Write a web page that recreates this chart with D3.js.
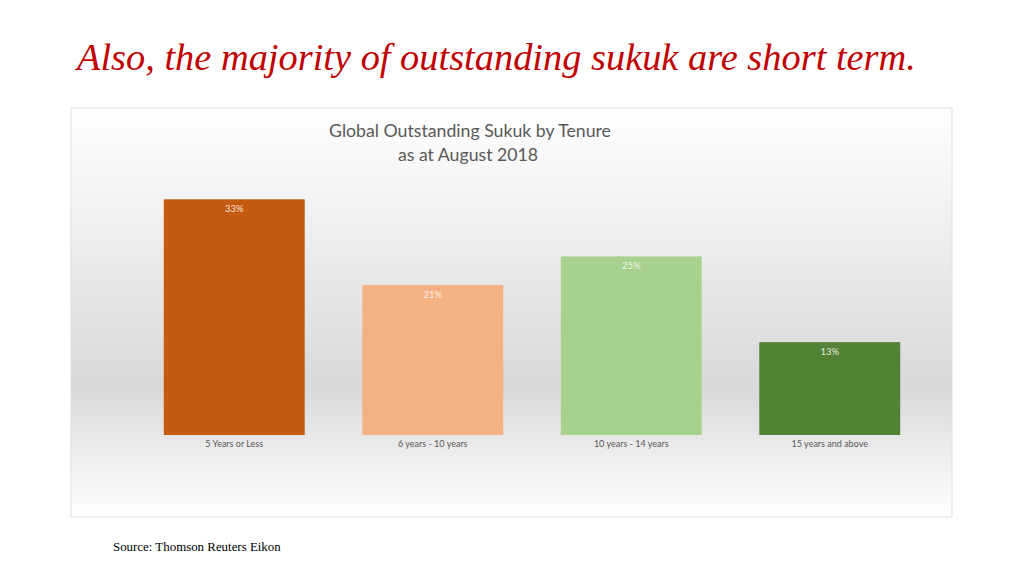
<!DOCTYPE html>
<html><head><meta charset="utf-8">
<script src="https://cdn.jsdelivr.net/npm/d3@7"></script>
<style>body{margin:0;background:#fff;}svg{display:block;}</style>
</head><body>
<svg id="c" width="1024" height="575"></svg>
<script>
const categories = ["5 Years or Less", "6 years - 10 years", "10 years - 14 years", "15 years and above"];
const values = [33, 21, 25, 13];
const colors = ["#c55a11", "#f4b183", "#a9d18e", "#548235"];
const labels = ["33%", "21%", "25%", "13%"];

const svg = d3.select("#c");
const defs = svg.append("defs");
const g = defs.append("linearGradient").attr("id","bg").attr("x1",0).attr("x2",0).attr("y1",0).attr("y2",1);
g.append("stop").attr("offset","0%").attr("stop-color","#ffffff");
g.append("stop").attr("offset","68%").attr("stop-color","#d9d9d9");
g.append("stop").attr("offset","100%").attr("stop-color","#ffffff");

svg.append("text").attr("x",77).attr("y",70)
  .attr("font-family","Liberation Serif").attr("font-style","italic").attr("font-size",38.4)
  .attr("fill","#c00000").text("Also, the majority of outstanding sukuk are short term.");

svg.append("rect").attr("x",71).attr("y",108).attr("width",881).attr("height",409)
  .attr("fill","url(#bg)").attr("stroke","#e0e0e0").attr("stroke-width",1);

const tfont = "Lato, 'Open Sans', sans-serif";
svg.append("text").attr("x",470).attr("y",137).attr("text-anchor","middle")
  .attr("font-family",tfont).attr("font-size",17.7).attr("fill","#595959").text("Global Outstanding Sukuk by Tenure");
svg.append("text").attr("x",468).attr("y",161).attr("text-anchor","middle")
  .attr("font-family",tfont).attr("font-size",17.7).attr("fill","#595959").text("as at August 2018");

const x = d3.scaleBand().domain(categories).range([135, 929]).paddingInner(0.29).paddingOuter(0.145);
const y = d3.scaleLinear().domain([0, 35]).range([435, 185]);

svg.selectAll("rect.bar").data(values).join("rect").attr("class","bar")
  .attr("x",(d,i)=>x(categories[i])).attr("width",x.bandwidth())
  .attr("y",d=>y(d)).attr("height",d=>y(0)-y(d))
  .attr("fill",(d,i)=>colors[i]);

svg.selectAll("text.dl").data(values).join("text").attr("class","dl")
  .attr("x",(d,i)=>x(categories[i])+x.bandwidth()/2).attr("y",d=>y(d)+13)
  .attr("text-anchor","middle").attr("font-family",tfont).attr("font-size",9.5)
  .attr("fill","#ffffff").attr("fill-opacity",0.85).text((d,i)=>labels[i]);

const ax = svg.append("g").attr("transform","translate(0,435)")
  .call(d3.axisBottom(x).tickSize(0).tickPadding(6));
ax.select(".domain").remove();
ax.selectAll("text").attr("font-family",tfont).attr("font-size",9).attr("fill","#595959");

svg.append("text").attr("x",113).attr("y",551)
  .attr("font-family","Liberation Serif").attr("font-size",12.9).attr("fill","#000").text("Source: Thomson Reuters Eikon");
</script>
</body></html>
